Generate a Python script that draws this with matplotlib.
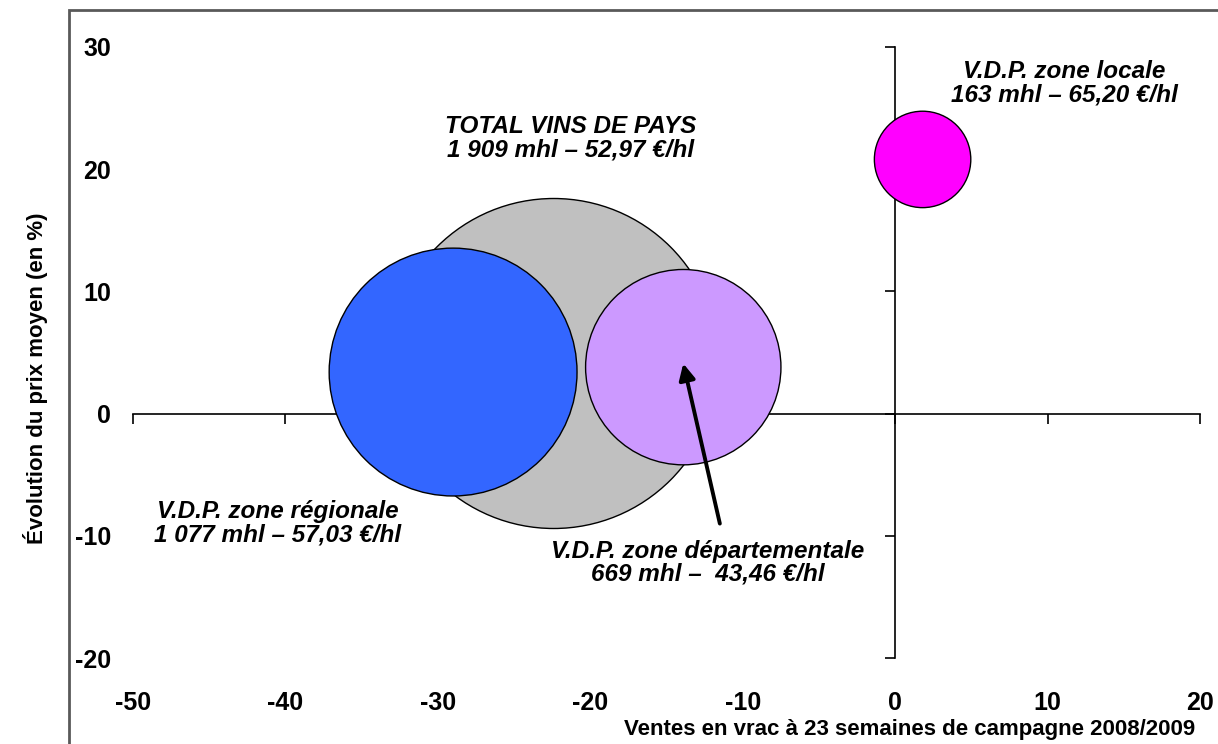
import numpy as np
import matplotlib.pyplot as plt
from matplotlib.patches import Rectangle

plt.rcParams['font.family'] = ['Liberation Sans', 'DejaVu Sans']
plt.rcParams['axes.unicode_minus'] = False

# Bubble data: sales change (x, %), price change (y, %), volume (mhl)
names = ['TOTAL VINS DE PAYS', 'V.D.P. zone régionale',
         'V.D.P. zone départementale', 'V.D.P. zone locale']
x_vals = [-22.4, -29.0, -13.9, 1.8]
y_vals = [4.1, 3.4, 3.8, 20.8]
volumes = [1909, 1077, 669, 163]
colors = ['#C0C0C0', '#3366FF', '#CC99FF', '#FF00FF']

# label anchor points (data coords)
label_x = [-21.3, -40.5, -12.3, 11.1]
label_y = [22.5, -9.0, -12.2, 27.0]
label_txt = [
    'TOTAL VINS DE PAYS\n1 909 mhl – 52,97 €/hl',
    'V.D.P. zone régionale\n1 077 mhl – 57,03 €/hl',
    'V.D.P. zone départementale\n669 mhl –  43,46 €/hl',
    'V.D.P. zone locale\n163 mhl – 65,20 €/hl',
]
arrow_tail = (-11.5, -9.0)

xticks = list(range(-50, 21, 10))
yticks = list(range(-20, 31, 10))

DPI = 100
fig = plt.figure(figsize=(12.18, 7.44), dpi=DPI)
rect = [133 / 1218, 1 - 658 / 744, (1200 - 133) / 1218, (658 - 47) / 744]

# outer chart-area frame
fig.patches.append(Rectangle((69 / 1218, -0.05), 1.0, 1 - 10 / 744 + 0.05,
                             transform=fig.transFigure, fill=False,
                             edgecolor='#595959', lw=2))

ax = fig.add_axes(rect)
ax.set_xlim(-50, 20)
ax.set_ylim(-20, 30)
ax.set_facecolor('none')
ax.spines['left'].set_position(('data', 0))
ax.spines['bottom'].set_position(('data', 0))
ax.spines['top'].set_visible(False)
ax.spines['right'].set_visible(False)
for s in ['left', 'bottom']:
    ax.spines[s].set_linewidth(1.2)
ax.set_xticks(xticks)
ax.set_yticks(yticks)
ax.tick_params(direction='out', length=7, width=1.2,
               labelleft=False, labelbottom=False)

# bubble area proportional to volume (largest ~330 px across)
scale = (330 * 72 / DPI) ** 2 / max(volumes)
ax.scatter(x_vals, y_vals, s=np.array(volumes) * scale, c=colors,
           edgecolors='black', linewidths=1.0, zorder=3, clip_on=False)

for lx, ly, t in zip(label_x, label_y, label_txt):
    ax.text(lx, ly, t, ha='center', va='center', fontsize=17.5,
            fontweight='bold', fontstyle='italic', linespacing=1.02, zorder=5)

ax.annotate('', xy=(x_vals[2], y_vals[2] + 0.3), xytext=arrow_tail,
            arrowprops=dict(arrowstyle='-|>', color='black', lw=2.8,
                            mutation_scale=24, shrinkA=0, shrinkB=0),
            zorder=6)

# overlay axes carrying the tick labels at the outer edges
ax2 = fig.add_axes(rect, frameon=False)
ax2.set_xlim(-50, 20)
ax2.set_ylim(-20, 30)
ax2.set_xticks(xticks)
ax2.set_yticks(yticks)
ax2.tick_params(length=0, labelsize=18)
ax2.tick_params(axis='x', pad=24)
ax2.tick_params(axis='y', pad=16)
for lab in ax2.get_xticklabels() + ax2.get_yticklabels():
    lab.set_fontweight('bold')
ax2.patch.set_visible(False)

fig.text(1195 / 1218, 1 - 730 / 744,
         'Ventes en vrac à 23 semaines de campagne 2008/2009',
         ha='right', va='center', fontsize=16, fontweight='bold')
fig.text(36 / 1218, 1 - 378 / 744, 'Évolution du prix moyen (en %)',
         ha='center', va='center', rotation=90, fontsize=16, fontweight='bold')

fig.savefig('out.png', dpi=DPI)
